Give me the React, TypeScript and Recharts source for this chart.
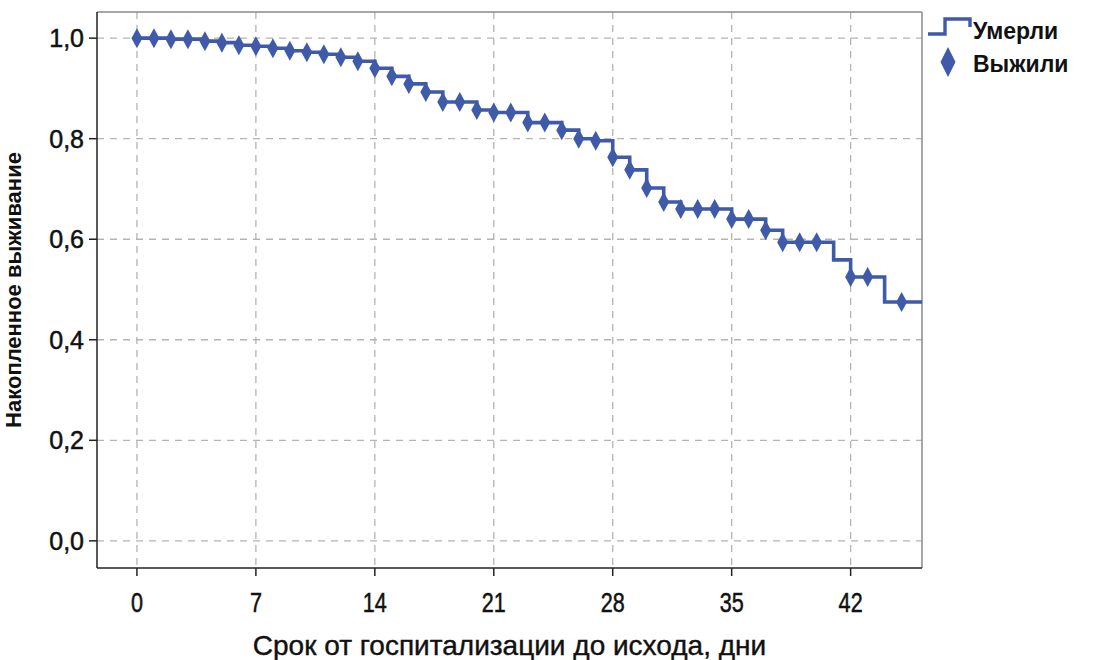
import {
  ComposedChart,
  Line,
  Scatter,
  XAxis,
  YAxis,
  CartesianGrid,
  ReferenceLine,
} from "recharts";

// Kaplan–Meier curve: days at which survival drops, and the survival after each drop
const stepDays = [
  0, 2, 4, 5, 6, 7, 8, 9, 10, 11, 12, 13, 14, 15, 16, 17, 18, 20, 21, 23, 25,
  26, 27, 28, 29, 30, 31, 32, 35, 37, 38, 41, 42, 44,
];
const stepSurvival = [
  1.0, 0.998, 0.994, 0.991, 0.986, 0.984, 0.98, 0.975, 0.972, 0.968, 0.962,
  0.954, 0.94, 0.924, 0.909, 0.893, 0.873, 0.857, 0.852, 0.832, 0.817, 0.8,
  0.796, 0.763, 0.738, 0.702, 0.674, 0.66, 0.64, 0.618, 0.594, 0.559, 0.525,
  0.475,
];
const followUpEnd = 46.2;

// censored observations (survivors)
const censoredDays = [
  0, 1, 2, 3, 4, 5, 6, 7, 8, 9, 10, 11, 12, 13, 14, 15, 16, 17, 18, 19, 20,
  21, 22, 23, 24, 25, 26, 27, 28, 29, 30, 31, 32, 33, 34, 35, 36, 37, 38, 39,
  40, 42, 43, 45,
];

const xTicks = [0, 7, 14, 21, 28, 35, 42];
const yTicks = [0, 0.2, 0.4, 0.6, 0.8, 1.0];

const X_DOMAIN: [number, number] = [-2.35, 46.2];
const Y_DOMAIN: [number, number] = [-0.054, 1.052];

const BLUE = "#3e5aa9";
const FONT = "'Liberation Sans', Arial, sans-serif";

const survivalAt = (t: number) => {
  let s = stepSurvival[0];
  stepDays.forEach((d, i) => {
    if (d <= t) s = stepSurvival[i];
  });
  return s;
};

const curve = [
  ...stepDays.map((t, i) => ({ t, s: stepSurvival[i] })),
  { t: followUpEnd, s: stepSurvival[stepSurvival.length - 1] },
];
const censored = censoredDays.map((t) => ({ t, s: survivalAt(t) }));

const Diamond = (props: any) => {
  const { cx, cy } = props;
  if (cx == null || cy == null) return null;
  return (
    <path
      d={`M${cx},${cy - 10} L${cx + 5.5},${cy} L${cx},${cy + 10} L${cx - 5.5},${cy} Z`}
      fill={BLUE}
    />
  );
};

const XTick = (props: any) => {
  const { x, y, payload } = props;
  return (
    <text
      transform={`translate(${x},${y + 34}) scale(0.8,1)`}
      textAnchor="middle"
      fontFamily={FONT}
      fontSize={27}
      fill="#111"
      stroke="#111"
      strokeWidth={0.5}
    >
      {payload.value}
    </text>
  );
};

const YTick = (props: any) => {
  const { x, y, payload } = props;
  return (
    <text
      x={x - 3}
      y={y + 9}
      textAnchor="end"
      fontFamily={FONT}
      fontSize={25}
      fill="#111"
      stroke="#111"
      strokeWidth={0.5}
    >
      {payload.value.toFixed(1).replace(".", ",")}
    </text>
  );
};

const LegendBox = () => (
  <svg width={170} height={80} style={{ position: "absolute", left: 926, top: 10 }}>
    <path
      d="M2,24 L19,24 L19,9 L44,9 L44,17"
      fill="none"
      stroke={BLUE}
      strokeWidth={3.4}
    />
    <text
      x={47}
      y={29}
      fontFamily={FONT}
      fontSize={23}
      fontWeight="bold"
      fill="#111"
    >
      Умерли
    </text>
    <path d="M22,37 L29.5,52 L22,67 L14.5,52 Z" fill={BLUE} />
    <text
      x={47}
      y={62}
      fontFamily={FONT}
      fontSize={23}
      fontWeight="bold"
      fill="#111"
    >
      Выжили
    </text>
  </svg>
);

export default function App() {
  return (
    <div
      style={{
        position: "absolute",
        left: 0,
        top: 0,
        width: 1093,
        height: 660,
        background: "#fff",
      }}
    >
      <ComposedChart
        width={1093}
        height={660}
        margin={{ top: 12, right: 171, bottom: 32, left: 0 }}
      >
        <CartesianGrid
          stroke="#b4b4b4"
          strokeDasharray="7 6"
          strokeWidth={1.3}
          horizontalValues={yTicks}
          verticalValues={xTicks}
        />
        <XAxis
          dataKey="t"
          type="number"
          domain={X_DOMAIN}
          ticks={xTicks}
          allowDataOverflow
          height={60}
          tickSize={8}
          stroke="#222"
          strokeWidth={1.5}
          tick={<XTick />}
          label={{
            value: "Срок от госпитализации до исхода, дни",
            position: "insideBottom",
            offset: -27,
            fontFamily: FONT,
            fontSize: 28,
            fill: "#111",
            stroke: "#111",
            strokeWidth: 0.4,
          }}
        />
        <YAxis
          type="number"
          domain={Y_DOMAIN}
          ticks={yTicks}
          allowDataOverflow
          width={97}
          tickSize={8}
          stroke="#222"
          strokeWidth={1.5}
          tick={<YTick />}
          label={{
            value: "Накопленное выживание",
            angle: -90,
            position: "insideLeft",
            offset: 2,
            dx: 11,
            fontFamily: FONT,
            fontSize: 22,
            fontWeight: "bold",
            fill: "#111",
            style: { textAnchor: "middle" },
          }}
        />
        {/* frame around the plot area */}
        <ReferenceLine y={Y_DOMAIN[1]} stroke="#8a8a8a" strokeWidth={1.5} ifOverflow="visible" />
        <ReferenceLine x={X_DOMAIN[1]} stroke="#8a8a8a" strokeWidth={1.5} ifOverflow="visible" />
        <Line
          data={curve}
          dataKey="s"
          type="stepAfter"
          stroke={BLUE}
          strokeWidth={3.6}
          dot={false}
          isAnimationActive={false}
          legendType="none"
        />
        <Scatter
          data={censored}
          dataKey="s"
          shape={<Diamond />}
          isAnimationActive={false}
          legendType="none"
        />
      </ComposedChart>
      <LegendBox />
    </div>
  );
}
